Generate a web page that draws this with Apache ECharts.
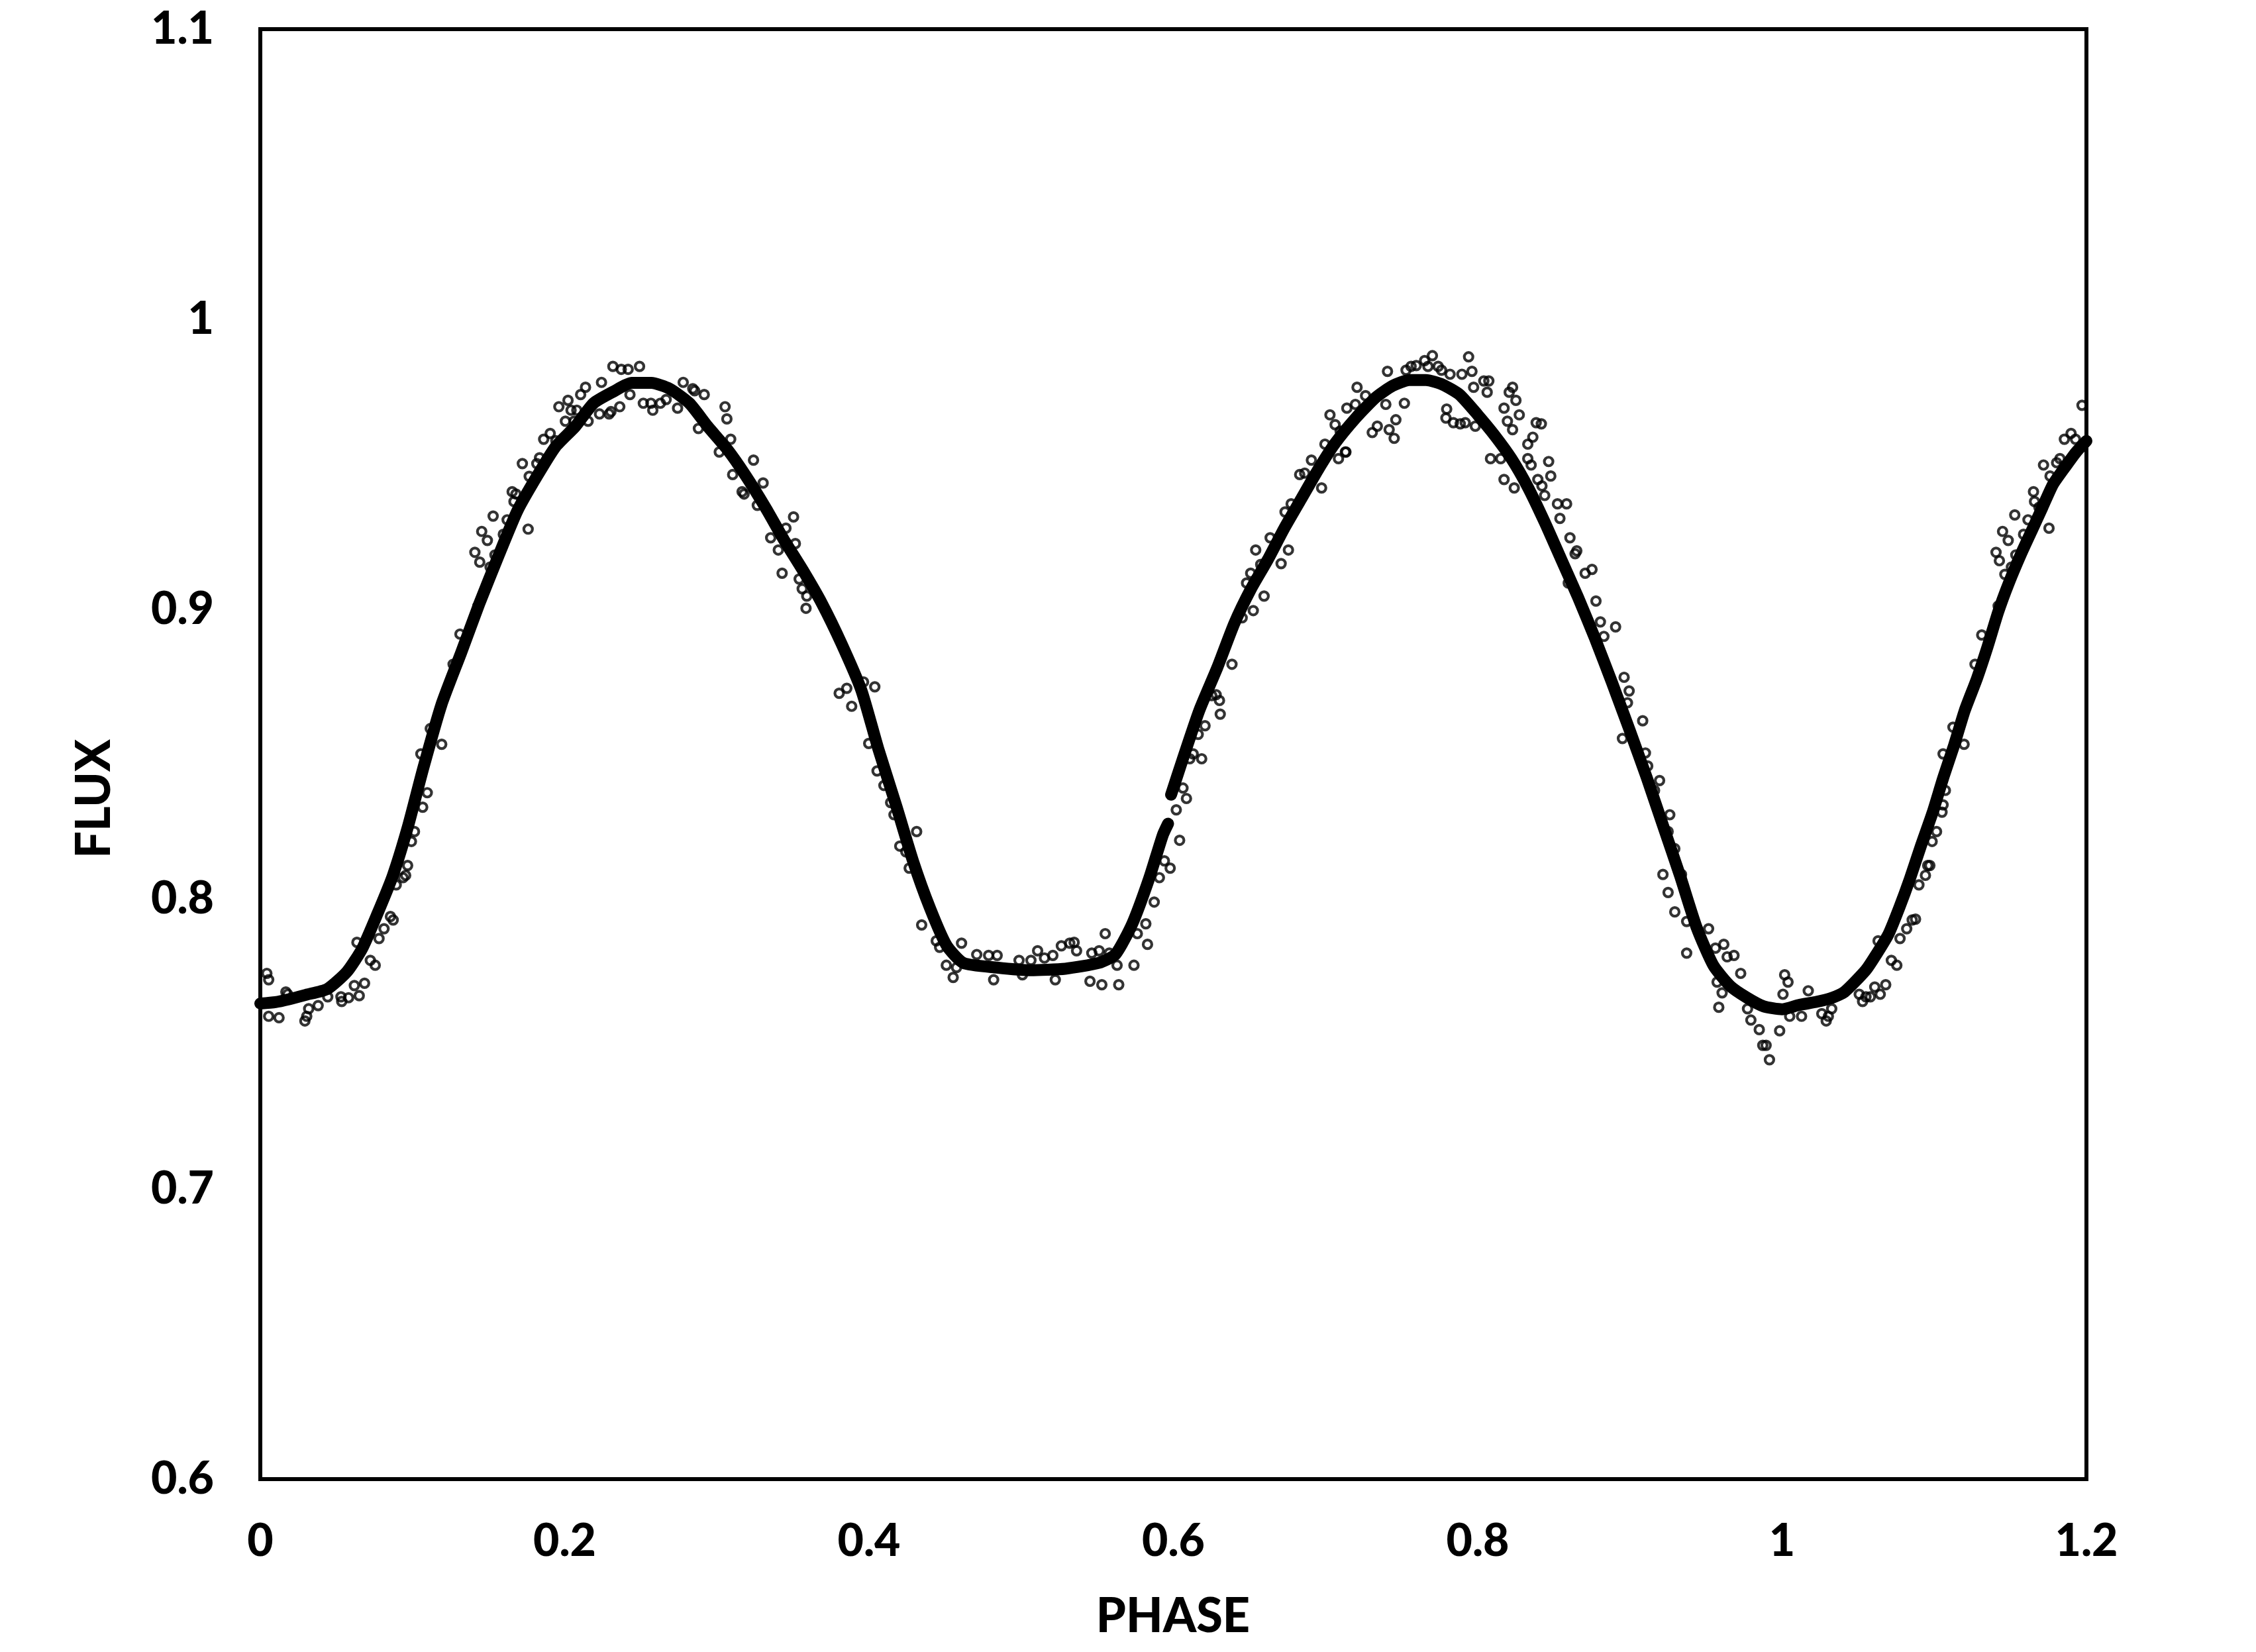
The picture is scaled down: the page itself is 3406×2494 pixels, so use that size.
<!DOCTYPE html>
<html><head><meta charset="utf-8">
<script src="https://cdn.jsdelivr.net/npm/echarts@6/dist/echarts.min.js"></script>
<style>html,body{margin:0;padding:0;background:#fff}#c{width:3406px;height:2494px}</style>
</head><body><div id="c"></div>
<script>
// Axis settings
const xRange = [0, 1.2], xStep = 0.2;
const yRange = [0.6, 1.1], yStep = 0.1;
const xTitle = 'PHASE', yTitle = 'FLUX';

// Model light curve [phase, flux]; '-' marks the break at phase ~0.597
const modelCurve = [
[0.000,0.764],[0.010,0.7645],[0.019,0.7655],[0.030,0.767],[0.044,0.769],[0.057,0.775],[0.067,0.783],
[0.077,0.795],[0.087,0.808],[0.097,0.825],[0.107,0.845],[0.119,0.867],[0.132,0.885],[0.144,0.902],
[0.157,0.919],[0.169,0.934],[0.182,0.946],[0.194,0.956],[0.207,0.963],[0.219,0.971],[0.232,0.975],
[0.244,0.978],[0.257,0.978],[0.269,0.976],[0.282,0.971],[0.294,0.963],[0.307,0.955],[0.319,0.946],
[0.332,0.935],[0.344,0.924],[0.357,0.913],[0.369,0.902],[0.382,0.888],[0.395,0.872],[0.406,0.852],
[0.418,0.832],[0.429,0.813],[0.440,0.797],[0.451,0.784],[0.462,0.778],[0.484,0.7764],[0.506,0.7755],
[0.529,0.776],[0.551,0.778],[0.562,0.781],[0.573,0.7915],[0.584,0.807],[0.593,0.822],[0.5965,0.826],
[0.5975,'-'],
[0.5985,0.836],[0.606,0.848],[0.617,0.865],[0.629,0.880],[0.640,0.895],[0.651,0.907],[0.662,0.917],
[0.673,0.928],[0.684,0.938],[0.695,0.948],[0.706,0.957],[0.720,0.966],[0.733,0.973],[0.744,0.977],
[0.755,0.979],[0.766,0.979],[0.777,0.9774],[0.788,0.974],[0.800,0.967],[0.811,0.960],[0.822,0.952],
[0.833,0.942],[0.844,0.930],[0.855,0.917],[0.866,0.904],[0.877,0.890],[0.888,0.875],[0.900,0.858],
[0.911,0.842],[0.922,0.825],[0.933,0.808],[0.944,0.790],[0.955,0.777],[0.966,0.770],[0.977,0.766],
[0.988,0.763],[1.000,0.762],[1.011,0.7635],[1.022,0.7645],[1.033,0.766],[1.041,0.768],[1.055,0.7755],
[1.062,0.781],[1.070,0.788],[1.077,0.797],[1.084,0.807],[1.091,0.818],[1.099,0.830],[1.106,0.842],
[1.113,0.853],[1.120,0.865],[1.128,0.876],[1.135,0.887],[1.142,0.899],[1.149,0.909],[1.157,0.919],
[1.164,0.927],[1.171,0.935],[1.178,0.943],[1.186,0.949],[1.193,0.954],[1.200,0.958]
];

// Observed points [phase, flux]
const observed = [
[0.0043,0.7744],[0.0055,0.7722],[0.0055,0.7596],[0.0123,0.7591],[0.0168,0.7680],[0.0180,0.7672],[0.0293,0.7580],
[0.0305,0.7596],[0.0318,0.7622],[0.0380,0.7633],[0.0443,0.7663],[0.0530,0.7663],[0.0535,0.7647],[0.0580,0.7660],
[0.0618,0.7702],[0.0650,0.7667],[0.0685,0.7710],[0.0635,0.7851],[0.0723,0.7789],[0.0755,0.7772],[0.0780,0.7864],
[0.0813,0.7898],[0.0855,0.7940],[0.0873,0.7928],[0.0893,0.8049],[0.0938,0.8074],[0.0955,0.8082],[0.0968,0.8116],
[0.0993,0.8199],[0.1013,0.8233],[0.1067,0.8317],[0.1097,0.8367],[0.1055,0.8501],[0.1117,0.8588],[0.1192,0.8534],
[0.1267,0.8810],[0.1312,0.8914],[0.1430,0.9011],[0.1410,0.9196],[0.1442,0.9162],[0.1455,0.9268],[0.1492,0.9237],
[0.1510,0.9145],[0.1530,0.9321],[0.1542,0.9187],[0.1597,0.9258],[0.1622,0.9308],[0.1655,0.9405],[0.1667,0.9371],
[0.1680,0.9397],[0.1722,0.9502],[0.1767,0.9458],[0.1760,0.9276],[0.1817,0.9502],[0.1835,0.9522],[0.1862,0.9586],
[0.1905,0.9606],[0.1942,0.9581],[0.1962,0.9698],[0.2005,0.9648],[0.2022,0.9720],[0.2042,0.9686],[0.2062,0.9648],
[0.2080,0.9686],[0.2105,0.9740],[0.2137,0.9765],[0.2154,0.9648],[0.2229,0.9673],[0.2242,0.9782],[0.2292,0.9673],
[0.2304,0.9681],[0.2317,0.9837],[0.2362,0.9698],[0.2372,0.9827],[0.2417,0.9827],[0.2429,0.9740],[0.2492,0.9837],
[0.2517,0.9710],[0.2567,0.9710],[0.2579,0.9686],[0.2629,0.9710],[0.2667,0.9723],[0.2742,0.9693],[0.2779,0.9782],
[0.2842,0.9760],[0.2854,0.9753],[0.2879,0.9623],[0.2917,0.9740],[0.3016,0.9542],[0.3054,0.9698],[0.3066,0.9656],
[0.3091,0.9586],[0.3104,0.9464],[0.3166,0.9405],[0.3179,0.9397],[0.3241,0.9514],[0.3266,0.9358],[0.3304,0.9435],
[0.3354,0.9246],[0.3404,0.9204],[0.3429,0.9124],[0.3454,0.9279],[0.3504,0.9318],[0.3516,0.9226],[0.3541,0.9104],
[0.3561,0.9070],[0.3591,0.9045],[0.3586,0.9003],[0.3804,0.8710],[0.3854,0.8727],
[0.3886,0.8665],[0.3964,0.8749],[0.4038,0.8732],[0.3998,0.8537],[0.4053,0.8442],[0.4098,0.8392],[0.4142,0.8333],
[0.4164,0.8291],[0.4202,0.8183],[0.4264,0.8107],[0.4313,0.8233],[0.4242,0.8163],[0.4346,0.7911],[0.4442,0.7856],
[0.4464,0.7834],[0.4508,0.7772],[0.4553,0.7730],[0.4608,0.7848],[0.4575,0.7764],[0.4708,0.7809],[0.4786,0.7806],
[0.4842,0.7806],[0.4819,0.7722],[0.4986,0.7789],[0.5008,0.7739],[0.5064,0.7789],[0.5108,0.7822],[0.5153,0.7797],
[0.5208,0.7806],[0.5224,0.7722],[0.5264,0.7839],[0.5319,0.7848],[0.5348,0.7851],[0.5364,0.7822],[0.5464,0.7814],
[0.5452,0.7717],[0.5512,0.7822],[0.5530,0.7705],[0.5552,0.7881],[0.5579,0.7814],[0.5630,0.7772],[0.5641,0.7705],
[0.5741,0.7772],[0.5763,0.7881],[0.5819,0.7915],[0.5830,0.7844],[0.5874,0.7990],[0.5908,0.8074],[0.5941,0.8132],
[0.5979,0.8107],[0.6041,0.8203],[0.6019,0.8308],[0.6063,0.8383],[0.6086,0.8347],[0.6108,0.8484],[0.6130,0.8501],
[0.6186,0.8484],[0.6163,0.8568],[0.6208,0.8598],[0.6252,0.8702],[0.6281,0.8705],[0.6303,0.8685],[0.6308,0.8638],
[0.6385,0.8810],[0.6452,0.8970],[0.6525,0.8995],[0.6481,0.9090],[0.6508,0.9124],[0.6541,0.9204],[0.6574,0.9154],
[0.6596,0.9045],[0.6636,0.9246],[0.6708,0.9157],[0.6734,0.9335],[0.6756,0.9204],[0.6774,0.9363],[0.6830,0.9464],
[0.6863,0.9469],[0.6907,0.9514],[0.6974,0.9418],[0.6996,0.9569],[0.7130,0.9542],
[0.7029,0.9670],[0.7063,0.9636],[0.7096,0.9614],[0.7140,0.9693],[0.7196,0.9706],[0.7207,0.9765],[0.7263,0.9736],
[0.7134,0.9542],[0.7085,0.9519],[0.7307,0.9609],[0.7340,0.9631],[0.7407,0.9820],[0.7418,0.9619],[0.7451,0.9589],
[0.7462,0.9653],[0.7396,0.9706],[0.7518,0.9710],[0.7529,0.9824],[0.7562,0.9837],[0.7596,0.9840],[0.7651,0.9857],
[0.7702,0.9874],[0.7673,0.9837],[0.7740,0.9837],[0.7762,0.9824],[0.7818,0.9810],[0.7896,0.9810],[0.7940,0.9870],
[0.7962,0.9820],[0.7796,0.9690],[0.7791,0.9659],[0.7840,0.9643],[0.7885,0.9639],[0.7918,0.9643],[0.7984,0.9631],
[0.8040,0.9787],[0.8073,0.9787],[0.8062,0.9748],[0.7973,0.9765],[0.8084,0.9519],[0.8151,0.9519],[0.8173,0.9447],
[0.8240,0.9418],[0.8173,0.9693],[0.8207,0.9748],[0.8229,0.9765],[0.8251,0.9720],[0.8273,0.9670],[0.8195,0.9648],
[0.8229,0.9619],[0.8329,0.9569],[0.8362,0.9593],[0.8384,0.9643],[0.8418,0.9639],[0.8329,0.9519],[0.8351,0.9497],
[0.8395,0.9447],[0.8466,0.9509],[0.8480,0.9459],[0.8422,0.9425],[0.8440,0.9392],[0.8524,0.9363],[0.8584,0.9363],
[0.8540,0.9313],[0.8606,0.9246],[0.8651,0.9201],[0.8640,0.9191],[0.8751,0.9137],[0.8706,0.9124],[0.8595,0.9090],
[0.8777,0.9028],[0.8806,0.8956],[0.8906,0.8939],[0.8829,0.8906],[0.8962,0.8765],[0.8995,0.8718],[0.8984,0.8677],
[0.9084,0.8615],[0.8951,0.8554],[0.9102,0.8504],[0.9117,0.8459],[0.9195,0.8409],[0.9162,0.8375],[0.9262,0.8291],
[0.9251,0.8233],[0.9295,0.8174],[0.9217,0.8085],[0.9339,0.8085],[0.9251,0.8023],[0.9295,0.7956],[0.9373,0.7923],
[0.9373,0.7814],[0.9517,0.7898],[0.9562,0.7831],[0.9617,0.7844],[0.9639,0.7801],[0.9684,0.7806],[0.9728,0.7744],
[0.9573,0.7714],[0.9606,0.7677],[0.9584,0.7627],[0.9773,0.7622],[0.9795,0.7583],[0.9850,0.7550],[0.9873,0.7496],
[0.9895,0.7496],[0.9917,0.7446],[0.9984,0.7546],[1.0017,0.7739],[1.0039,0.7714],[1.0006,0.7672],[1.0050,0.7596],
[1.0128,0.7596],[1.0172,0.7684],
[1.0261,0.7605],[1.0290,0.7580],[1.0304,0.7596],[1.0326,0.7622],[1.0507,0.7672],[1.0529,0.7647],[1.0551,0.7663],
[1.0580,0.7663],[1.0609,0.7697],[1.0645,0.7672],[1.0681,0.7705],[1.0631,0.7856],[1.0718,0.7789],[1.0754,0.7772],
[1.0775,0.7864],[1.0819,0.7898],[1.0855,0.7928],[1.0877,0.7931],[1.0899,0.8049],[1.0942,0.8082],[1.0957,0.8116],
[1.0971,0.8116],[1.0986,0.8199],[1.1015,0.8233],[1.1051,0.8300],[1.1058,0.8325],[1.1073,0.8375],[1.1058,0.8501],
[1.1123,0.8593],[1.1196,0.8534],[1.1268,0.8810],[1.1312,0.8911],[1.1420,0.9011],[1.1464,0.9120],[1.1428,0.9167],
[1.1406,0.9196],[1.1507,0.9145],[1.1486,0.9237],[1.1449,0.9268],[1.1536,0.9187],[1.1529,0.9325],[1.1616,0.9308],
[1.1587,0.9258],[1.1652,0.9405],[1.1659,0.9371],[1.1688,0.9351],[1.1754,0.9279],[1.1718,0.9497],[1.1761,0.9459],
[1.1804,0.9505],[1.1826,0.9519],[1.1855,0.9586],[1.1899,0.9606],[1.1928,0.9586],[1.1971,0.9703]
];

const FONT = 'Lato';
const chart = echarts.init(document.getElementById('c'), null, {renderer: 'canvas'});
chart.setOption({
  animation: false,
  backgroundColor: '#ffffff',
  grid: {left: 393, right: 256, top: 44, bottom: 261, show: true, borderColor: '#000', borderWidth: 6, backgroundColor: 'transparent'},
  xAxis: {
    type: 'value', min: xRange[0], max: xRange[1], interval: xStep,
    axisLine: {show: false}, axisTick: {show: false}, splitLine: {show: false},
    axisLabel: {margin: 60, color: '#000', fontFamily: FONT, fontWeight: 900, fontSize: 68}
  },
  yAxis: {
    type: 'value', min: yRange[0], max: yRange[1], interval: yStep,
    axisLine: {show: false}, axisTick: {show: false}, splitLine: {show: false},
    axisLabel: {margin: 70, color: '#000', fontFamily: FONT, fontWeight: 900, fontSize: 68}
  },
  graphic: [
    {type: 'text', x: 143, y: 1206, rotation: Math.PI / 2,
     style: {text: yTitle, fill: '#000', fontFamily: FONT, fontWeight: 900, fontSize: 72, align: 'center', verticalAlign: 'middle'}},
    {type: 'text', x: 1771, y: 2441,
     style: {text: xTitle, fill: '#000', fontFamily: FONT, fontWeight: 900, fontSize: 72, align: 'center', verticalAlign: 'middle'}}
  ],
  series: [
    {type: 'scatter', data: observed, symbol: 'circle', symbolSize: 13, z: 2,
     itemStyle: {color: 'rgba(0,0,0,0)', borderColor: '#000', borderWidth: 4.2}},
    {type: 'line', data: modelCurve, showSymbol: false, symbol: 'none', smooth: 0.2, connectNulls: false, z: 3,
     lineStyle: {color: '#000', width: 18, cap: 'round', join: 'round'}}
  ]
});
</script></body></html>
